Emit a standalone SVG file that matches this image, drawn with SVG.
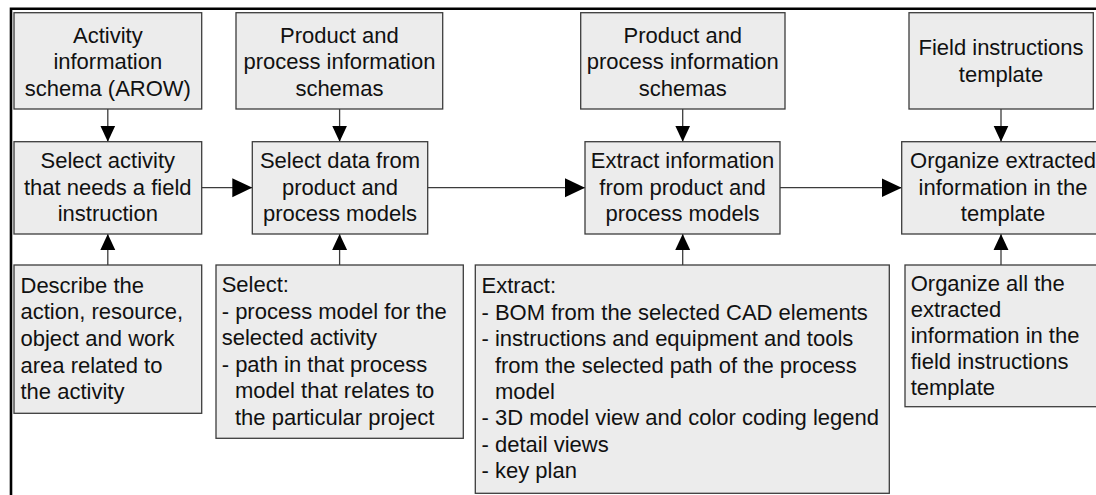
<svg xmlns="http://www.w3.org/2000/svg" width="1096" height="495" viewBox="0 0 1096 495">
  <style>
    .box { fill: #ececec; stroke: #3c3c3c; stroke-width: 1.3; }
    .t { font-family: "Liberation Sans", Arial, sans-serif; font-size: 22px; fill: #111; }
    .c { text-anchor: middle; }
    .link { stroke: #3c3c3c; stroke-width: 1.3; fill: none; }
    .frame { stroke: #000; stroke-width: 2.6; fill: none; }
  </style>
  <defs>
    <marker id="headV" markerUnits="userSpaceOnUse" markerWidth="16" markerHeight="16" viewBox="0 0 15 14" refX="15" refY="7" orient="auto">
      <path d="M0,0 L15,7 L0,14 Z" fill="#000"/>
    </marker>
    <marker id="headH" markerUnits="userSpaceOnUse" markerWidth="20" markerHeight="20" viewBox="0 0 18 17" refX="18" refY="8.5" orient="auto">
      <path d="M0,0 L18,8.5 L0,17 Z" fill="#000"/>
    </marker>
  </defs>

  <rect width="1096" height="495" fill="#fff"/>
  <path class="frame" d="M11,495 V8.7 H1096"/>

  <!-- connectors -->
  <g id="connectors">
    <line class="link" x1="107.8" y1="109" x2="107.8" y2="141.7" marker-end="url(#headV)"/>
    <line class="link" x1="339.6" y1="109" x2="339.6" y2="141.7" marker-end="url(#headV)"/>
    <line class="link" x1="682.7" y1="109" x2="682.7" y2="141.7" marker-end="url(#headV)"/>
    <line class="link" x1="1001" y1="109" x2="1001" y2="141.7" marker-end="url(#headV)"/>

    <line class="link" x1="107.8" y1="265" x2="107.8" y2="234" marker-end="url(#headV)"/>
    <line class="link" x1="339.6" y1="265" x2="339.6" y2="234" marker-end="url(#headV)"/>
    <line class="link" x1="682.7" y1="265" x2="682.7" y2="234" marker-end="url(#headV)"/>
    <line class="link" x1="1001" y1="265" x2="1001" y2="234" marker-end="url(#headV)"/>

    <line class="link" x1="201.7" y1="187.7" x2="252.3" y2="187.7" marker-end="url(#headH)"/>
    <line class="link" x1="427.7" y1="187.7" x2="585" y2="187.7" marker-end="url(#headH)"/>
    <line class="link" x1="780" y1="187.7" x2="901.7" y2="187.7" marker-end="url(#headH)"/>
  </g>

  <!-- inputs (top row) -->
  <g id="activity-schema">
    <rect class="box" x="14" y="12.7" width="187.7" height="96.3"/>
    <text class="t c" x="107.8" y="42.5">Activity</text>
    <text class="t c" x="107.8" y="69.2">information</text>
    <text class="t c" x="107.8" y="95.9">schema (AROW)</text>
  </g>
  <g id="product-schemas-1">
    <rect class="box" x="236" y="12.7" width="206.7" height="96.3"/>
    <text class="t c" x="339.4" y="42.5">Product and</text>
    <text class="t c" x="339.4" y="69.2">process information</text>
    <text class="t c" x="339.4" y="95.9">schemas</text>
  </g>
  <g id="product-schemas-2">
    <rect class="box" x="580.7" y="12.7" width="204.3" height="96.3"/>
    <text class="t c" x="682.8" y="42.5">Product and</text>
    <text class="t c" x="682.8" y="69.2">process information</text>
    <text class="t c" x="682.8" y="95.9">schemas</text>
  </g>
  <g id="field-template">
    <rect class="box" x="909" y="12.7" width="184.3" height="96.3"/>
    <text class="t c" x="1001" y="55">Field instructions</text>
    <text class="t c" x="1001" y="81.5">template</text>
  </g>

  <!-- process steps (middle row) -->
  <g id="select-activity">
    <rect class="box" x="14" y="141.7" width="187.7" height="92.3"/>
    <text class="t c" x="107.8" y="168.4">Select activity</text>
    <text class="t c" x="107.8" y="195.1">that needs a field</text>
    <text class="t c" x="107.8" y="221.3">instruction</text>
  </g>
  <g id="select-data">
    <rect class="box" x="252.3" y="141.7" width="175.4" height="92.3"/>
    <text class="t c" x="340" y="168.4">Select data from</text>
    <text class="t c" x="340" y="195.1">product and</text>
    <text class="t c" x="340" y="221.3">process models</text>
  </g>
  <g id="extract-info">
    <rect class="box" x="585" y="141.7" width="195" height="92.3"/>
    <text class="t c" x="682.5" y="168.4">Extract information</text>
    <text class="t c" x="682.5" y="195.1">from product and</text>
    <text class="t c" x="682.5" y="221.3">process models</text>
  </g>
  <g id="organize-info">
    <rect class="box" x="901.7" y="141.7" width="204" height="92.3"/>
    <text class="t c" x="1003" y="168.4">Organize extracted</text>
    <text class="t c" x="1003" y="195.1">information in the</text>
    <text class="t c" x="1003" y="221.3">template</text>
  </g>

  <!-- descriptions (bottom row) -->
  <g id="describe-note">
    <rect class="box" x="14" y="265" width="187.7" height="148.3"/>
    <text class="t" x="20.5" y="292.7">Describe the</text>
    <text class="t" x="20.5" y="319.3">action, resource,</text>
    <text class="t" x="20.5" y="346">object and work</text>
    <text class="t" x="20.5" y="372.7">area related to</text>
    <text class="t" x="20.5" y="399.3">the activity</text>
  </g>
  <g id="select-note">
    <rect class="box" x="216" y="265" width="247.3" height="173.3"/>
    <text class="t" x="221.7" y="292">Select:</text>
    <text class="t" x="221.7" y="318.5">- process model for the</text>
    <text class="t" x="221.7" y="345">selected activity</text>
    <text class="t" x="221.7" y="371.6">- path in that process</text>
    <text class="t" x="235" y="398.2">model that relates to</text>
    <text class="t" x="235" y="424.8">the particular project</text>
  </g>
  <g id="extract-note">
    <rect class="box" x="475.3" y="265" width="414" height="228.3"/>
    <text class="t" x="481.5" y="293">Extract:</text>
    <text class="t" x="481.5" y="319.5">- BOM from the selected CAD elements</text>
    <text class="t" x="481.5" y="346">- instructions and equipment and tools</text>
    <text class="t" x="494.9" y="372.5">from the selected path of the process</text>
    <text class="t" x="494.9" y="398.8">model</text>
    <text class="t" x="481.5" y="425.2">- 3D model view and color coding legend</text>
    <text class="t" x="481.5" y="451.6">- detail views</text>
    <text class="t" x="481.5" y="478">- key plan</text>
  </g>
  <g id="organize-note">
    <rect class="box" x="905" y="265" width="200" height="141.7"/>
    <text class="t" x="910.7" y="290.5">Organize all the</text>
    <text class="t" x="910.7" y="316.5">extracted</text>
    <text class="t" x="910.7" y="342.5">information in the</text>
    <text class="t" x="910.7" y="368.5">field instructions</text>
    <text class="t" x="910.7" y="394.5">template</text>
  </g>
</svg>
